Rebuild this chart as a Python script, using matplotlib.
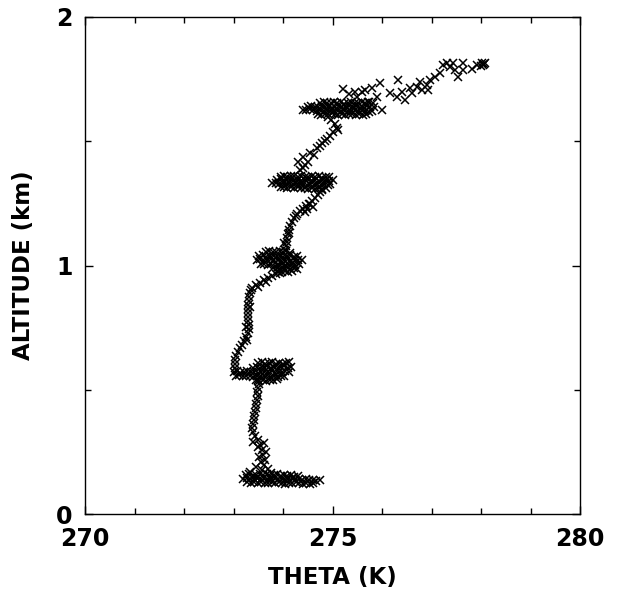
import matplotlib
matplotlib.use("Agg")
import matplotlib.pyplot as plt

# ---------------- data (theta in K, altitude in km) ----------------
# continuous profile segments between level legs
prof_theta = [
    273.58, 273.62, 273.64, 273.60, 273.58, 273.54, 273.49, 273.43, 273.39, 273.37,
    273.39, 273.41, 273.41, 273.43, 273.45, 273.45, 273.47, 273.49, 273.47, 273.49,
    273.52, 273.49,
    273.45, 273.70, 273.52, 273.66, 273.50, 273.40, 273.56, 273.34, 273.75, 273.62,
    # leg B -> leg C
    273.03, 273.03, 273.03, 273.05, 273.09, 273.13, 273.17, 273.21, 273.25, 273.29,
    273.31, 273.31, 273.29, 273.29, 273.29, 273.29, 273.29, 273.31, 273.31, 273.33,
    273.37, 273.45, 273.54, 273.62, 273.70, 273.78, 273.86, 273.94, 273.26, 273.34,
    273.27, 273.35, 273.50, 273.66,
    # leg C -> leg D
    274.04, 274.06, 274.08, 274.08, 274.10, 274.12, 274.14, 274.18, 274.22, 274.28,
    274.34, 274.40, 274.46, 274.53, 274.59, 274.65, 274.71, 274.75, 274.79, 274.49,
    274.55, 274.61, 274.44, 274.02, 274.12, 274.26,
    # leg D -> leg E
    274.34, 274.44, 274.51, 274.40, 274.30, 274.40, 274.55, 274.69, 274.79, 274.89,
    274.95, 275.01, 275.09, 275.05, 274.97, 274.91, 274.85, 275.11, 274.62, 274.75,
    # above leg E
    275.21, 275.45, 275.66, 275.80, 275.96, 275.90, 276.00, 275.72, 275.82, 275.49,
    275.33, 275.60,
    276.32, 276.16, 276.30, 276.40, 276.46, 276.57, 276.61, 276.71, 276.77, 276.81,
    276.91, 276.97, 276.93, 277.07, 277.17, 277.23, 277.31, 277.37, 277.43, 277.47,
    277.54, 277.64, 277.64, 277.82, 277.92, 278.02, 278.04, 278.08, 278.06, 278.00,
]
prof_alt = [
    0.177, 0.197, 0.217, 0.237, 0.258, 0.278, 0.298, 0.314, 0.330, 0.346,
    0.362, 0.378, 0.394, 0.410, 0.427, 0.443, 0.459, 0.475, 0.491, 0.507,
    0.523, 0.539,
    0.190, 0.180, 0.230, 0.250, 0.270, 0.290, 0.210, 0.170, 0.165, 0.285,
    # leg B -> leg C
    0.588, 0.604, 0.620, 0.636, 0.652, 0.668, 0.680, 0.696, 0.712, 0.728,
    0.744, 0.761, 0.777, 0.793, 0.809, 0.825, 0.841, 0.857, 0.873, 0.889,
    0.909, 0.922, 0.930, 0.942, 0.950, 0.958, 0.966, 0.970, 0.752, 0.832,
    0.700, 0.900, 0.915, 0.935,
    # leg C -> leg D
    1.062, 1.078, 1.095, 1.111, 1.127, 1.143, 1.159, 1.175, 1.191, 1.207,
    1.219, 1.227, 1.239, 1.247, 1.260, 1.272, 1.284, 1.296, 1.304, 1.227,
    1.247, 1.235, 1.215, 1.090, 1.130, 1.200,
    # leg D -> leg E
    1.384, 1.404, 1.416, 1.392, 1.416, 1.437, 1.453, 1.473, 1.493, 1.509,
    1.521, 1.537, 1.553, 1.569, 1.586, 1.598, 1.500, 1.545, 1.445, 1.480,
    # above leg E
    1.710, 1.698, 1.706, 1.714, 1.734, 1.678, 1.626, 1.658, 1.654, 1.678,
    1.690, 1.700,
    1.746, 1.694, 1.678, 1.698, 1.666, 1.714, 1.694, 1.718, 1.738, 1.706,
    1.726, 1.746, 1.706, 1.759, 1.775, 1.807, 1.815, 1.799, 1.815, 1.787,
    1.759, 1.815, 1.787, 1.791, 1.807, 1.815, 1.807, 1.815, 1.811, 1.803,
]

# level legs (constant-altitude runs)
legA_theta = [
    273.25, 273.32, 273.39, 273.46, 273.53, 273.60, 273.67, 273.74, 273.81, 273.88,
    273.95, 274.02, 274.09, 274.16, 274.23, 274.30,
    273.20, 273.27, 273.34, 273.41, 273.48, 273.55, 273.62, 273.69, 273.76, 273.83,
    273.90, 273.97, 274.04, 274.11, 274.18, 274.25, 274.32, 274.39, 274.46, 274.53,
    274.60, 274.67, 274.74,
    273.28, 273.35, 273.42, 273.49, 273.56, 273.63, 273.70, 273.77, 273.84, 273.91,
    273.98, 274.05, 274.12, 274.19, 274.26, 274.33, 274.40, 274.47, 274.54, 274.61,
]
legA_alt = [
    0.156, 0.160, 0.154, 0.158, 0.162, 0.155, 0.159, 0.153, 0.157, 0.161,
    0.154, 0.158, 0.152, 0.156, 0.150, 0.153,
    0.141, 0.144, 0.139, 0.142, 0.145, 0.140, 0.143, 0.138, 0.141, 0.144,
    0.139, 0.142, 0.137, 0.140, 0.143, 0.138, 0.141, 0.136, 0.139, 0.135,
    0.138, 0.133, 0.136,
    0.127, 0.124, 0.128, 0.125, 0.129, 0.126, 0.123, 0.127, 0.124, 0.128,
    0.125, 0.122, 0.126, 0.123, 0.127, 0.124, 0.121, 0.125, 0.122, 0.126,
]

legB_theta = [
    273.50, 273.57, 273.64, 273.71, 273.78, 273.85, 273.92, 273.99, 274.06, 274.13,
    273.40, 273.47, 273.54, 273.61, 273.68, 273.75, 273.82, 273.89, 273.96, 274.03,
    274.10, 274.17,
    273.00, 273.07, 273.14, 273.21, 273.28, 273.35, 273.42, 273.49, 273.56, 273.63,
    273.70, 273.77, 273.84, 273.91, 273.98, 274.05, 274.12,
    273.05, 273.12, 273.19, 273.26, 273.33, 273.40, 273.47, 273.54, 273.61, 273.68,
    273.75, 273.82, 273.89, 273.96, 274.03,
    273.45, 273.52, 273.59, 273.66, 273.73, 273.80, 273.87,
]
legB_alt = [
    0.606, 0.610, 0.603, 0.608, 0.612, 0.604, 0.609, 0.602, 0.607, 0.611,
    0.589, 0.592, 0.587, 0.591, 0.594, 0.588, 0.593, 0.586, 0.590, 0.595,
    0.588, 0.592,
    0.571, 0.574, 0.569, 0.572, 0.575, 0.570, 0.573, 0.568, 0.572, 0.575,
    0.570, 0.574, 0.569, 0.573, 0.571, 0.575, 0.570,
    0.556, 0.559, 0.554, 0.557, 0.555, 0.553, 0.556, 0.552, 0.555, 0.558,
    0.553, 0.556, 0.551, 0.554, 0.557,
    0.539, 0.536, 0.540, 0.537, 0.541, 0.538, 0.542,
]

legC_theta = [
    273.65, 273.72, 273.79, 273.86, 273.93, 274.00, 274.07, 274.14,
    273.52, 273.59, 273.66, 273.73, 273.80, 273.87, 273.94, 274.01, 274.08, 274.15,
    274.22, 274.29,
    273.47, 273.54, 273.61, 273.68, 273.75, 273.82, 273.89, 273.96, 274.03, 274.10,
    274.17, 274.24, 274.31, 274.38,
    273.55, 273.62, 273.69, 273.76, 273.83, 273.90, 273.97, 274.04, 274.11, 274.18,
    274.25, 274.32,
    273.80, 273.87, 273.94, 274.01, 274.08, 274.15, 274.22, 274.29,
    273.90, 273.97, 274.04, 274.11, 274.18,
]
legC_alt = [
    1.055, 1.058, 1.053, 1.056, 1.059, 1.054, 1.057, 1.052,
    1.038, 1.041, 1.036, 1.039, 1.042, 1.037, 1.040, 1.035, 1.038, 1.041,
    1.036, 1.039,
    1.022, 1.025, 1.020, 1.023, 1.026, 1.021, 1.024, 1.019, 1.022, 1.025,
    1.020, 1.023, 1.021, 1.024,
    1.005, 1.008, 1.003, 1.006, 1.009, 1.004, 1.007, 1.002, 1.005, 1.008,
    1.003, 1.006,
    0.988, 0.991, 0.986, 0.989, 0.992, 0.987, 0.990, 0.985,
    0.975, 0.972, 0.976, 0.973, 0.977,
]

legD_theta = [
    273.95, 274.02, 274.09, 274.16, 274.23, 274.30, 274.37, 274.44, 274.51, 274.58,
    274.65, 274.72, 274.79, 274.86, 274.93,
    273.88, 273.95, 274.02, 274.09, 274.16, 274.23, 274.30, 274.37, 274.44, 274.51,
    274.58, 274.65, 274.72, 274.79, 274.86, 274.93, 275.00,
    273.78, 273.85, 273.92, 273.99, 274.06, 274.13, 274.20, 274.27, 274.34, 274.41,
    274.48, 274.55, 274.62, 274.69, 274.76, 274.83, 274.90, 274.95,
    273.95, 274.02, 274.09, 274.16, 274.23, 274.30, 274.37, 274.44, 274.51, 274.58,
    274.65, 274.72, 274.79, 274.86,
]
legD_alt = [
    1.358, 1.361, 1.356, 1.359, 1.362, 1.357, 1.360, 1.355, 1.358, 1.361,
    1.356, 1.359, 1.354, 1.357, 1.355,
    1.344, 1.347, 1.342, 1.345, 1.348, 1.343, 1.346, 1.341, 1.344, 1.347,
    1.342, 1.345, 1.340, 1.343, 1.346, 1.341, 1.344,
    1.334, 1.331, 1.329, 1.332, 1.328, 1.331, 1.327, 1.330, 1.326, 1.329,
    1.325, 1.328, 1.324, 1.327, 1.323, 1.326, 1.324, 1.327,
    1.314, 1.317, 1.312, 1.315, 1.311, 1.314, 1.310, 1.313, 1.309, 1.312,
    1.308, 1.311, 1.307, 1.310,
]

legE_theta = [
    274.75, 274.82, 274.89, 274.96, 275.03, 275.10, 275.17, 275.24, 275.31, 275.38,
    275.45, 275.52, 275.59, 275.66, 275.73,
    274.50, 274.57, 274.64, 274.71, 274.78, 274.85, 274.92, 274.99, 275.06, 275.13,
    275.20, 275.27, 275.34, 275.41, 275.48, 275.55, 275.62, 275.69, 275.76, 275.84,
    274.40, 274.47, 274.54, 274.61, 274.68, 274.75, 274.82, 274.89, 274.96, 275.03,
    275.10, 275.17, 275.24, 275.31, 275.38, 275.45, 275.52, 275.59, 275.66, 275.73,
    275.80,
    274.70, 274.77, 274.84, 274.91, 274.98, 275.05, 275.12, 275.19, 275.26, 275.33,
    275.40, 275.47, 275.54, 275.61, 275.68,
]
legE_alt = [
    1.654, 1.657, 1.652, 1.655, 1.658, 1.653, 1.656, 1.651, 1.654, 1.657,
    1.652, 1.655, 1.658, 1.653, 1.656,
    1.638, 1.641, 1.636, 1.639, 1.642, 1.637, 1.640, 1.635, 1.638, 1.641,
    1.636, 1.639, 1.642, 1.637, 1.640, 1.635, 1.638, 1.641, 1.636, 1.639,
    1.627, 1.624, 1.628, 1.625, 1.622, 1.626, 1.623, 1.627, 1.624, 1.621,
    1.625, 1.622, 1.626, 1.623, 1.620, 1.624, 1.621, 1.625, 1.622, 1.619,
    1.623,
    1.610, 1.607, 1.611, 1.608, 1.612, 1.609, 1.606, 1.610, 1.607, 1.611,
    1.608, 1.605, 1.609, 1.606, 1.610,
]

x_ticks = [270, 275, 280]
y_ticks = [0, 1, 2]
x_label = "THETA (K)"
y_label = "ALTITUDE (km)"

# ---------------- figure ----------------
plt.rcParams['font.family'] = ['DejaVu Sans']
fig = plt.figure(figsize=(6.19, 5.92), dpi=100)
ax = fig.add_axes([85 / 619, 78 / 592, 495 / 619, 497 / 592])

all_theta = prof_theta + legA_theta + legB_theta + legC_theta + legD_theta + legE_theta
all_alt = prof_alt + legA_alt + legB_alt + legC_alt + legD_alt + legE_alt
ax.plot(all_theta, all_alt, linestyle='none', marker='x', color='black',
        markersize=6, markeredgewidth=1.1)

ax.set_xlim(270, 280)
ax.set_ylim(0, 2)
ax.set_xticks(x_ticks)
ax.set_xticklabels([str(v) for v in x_ticks])
ax.set_xticks([271, 272, 273, 274, 276, 277, 278, 279], minor=True)
ax.set_yticks(y_ticks)
ax.set_yticklabels([str(v) for v in y_ticks])
ax.set_yticks([0.5, 1.5], minor=True)

ax.tick_params(which='both', direction='in', top=True, right=True, width=1.0, color='black')
ax.tick_params(which='major', length=6, labelsize=17)
ax.tick_params(which='minor', length=4)
ax.tick_params(axis='x', which='major', pad=9)
ax.tick_params(axis='y', which='major', pad=9)
for lab in ax.get_xticklabels() + ax.get_yticklabels():
    lab.set_fontweight('bold')

for s in ax.spines.values():
    s.set_linewidth(1.0)
    s.set_color('black')

ax.set_xlabel(x_label, fontsize=16.5, fontweight='bold', labelpad=11)
ax.set_ylabel(y_label, fontsize=16.5, fontweight='bold', labelpad=15)

fig.savefig("out.png", dpi=100)
